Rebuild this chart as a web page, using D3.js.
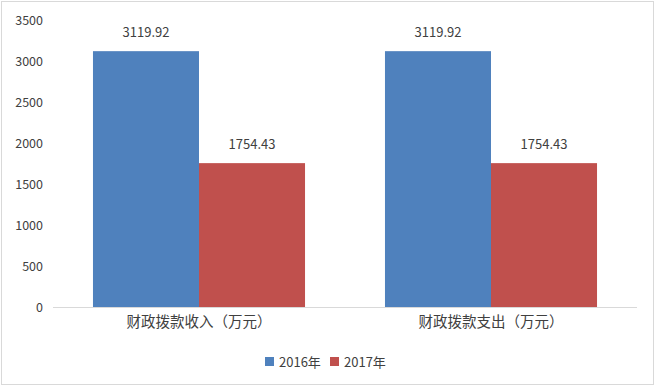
<!DOCTYPE html>
<html>
<head>
<meta charset="utf-8">
<script src="https://cdn.jsdelivr.net/npm/d3@7"></script>
<style>
  body { margin: 0; background: #fff; }
  text { font-family: "Noto Sans CJK SC", "Noto Sans", sans-serif; fill: #404040; }
</style>
</head>
<body>
<svg id="chart" width="655" height="386"></svg>
<script>
// chart data
var categories = ["财政拨款收入（万元）", "财政拨款支出（万元）"];
var seriesNames = ["2016年", "2017年"];
var values2016 = [3119.92, 3119.92];
var values2017 = [1754.43, 1754.43];
var yTicks = [0, 500, 1000, 1500, 2000, 2500, 3000, 3500];
var colors = ["#4f81bd", "#c0504d"];

var svg = d3.select("#chart");

// outer frame
svg.append("rect")
  .attr("x", 1.5).attr("y", 1.5)
  .attr("width", 652).attr("height", 383)
  .attr("fill", "#fff")
  .attr("stroke", "#d9d9d9");

var x0 = d3.scaleBand().domain(categories).range([53, 637]).paddingInner(0).paddingOuter(0);
var x1 = d3.scaleBand().domain(seriesNames).range([0, x0.bandwidth()]).paddingInner(0).paddingOuter(0.377);
var y = d3.scaleLinear().domain([0, 3500]).range([307, 20]);

var table = categories.map((c, i) => {
  return { cat: c, vals: [values2016[i], values2017[i]] };
});

// y axis labels
var yAxis = d3.axisLeft(y).tickValues(yTicks).tickFormat(d3.format("d")).tickSize(0).tickPadding(10);
var yg = svg.append("g").attr("transform", "translate(53,0)").call(yAxis);
yg.select(".domain").remove();
yg.selectAll("text")
  .style("font-size", "12.5px")
  .attr("fill", "#595959");

// bars
var groups = svg.selectAll("g.cat")
  .data(table)
  .enter()
  .append("g")
  .attr("class", "cat")
  .attr("transform", (d) => "translate(" + x0(d.cat) + ",0)");

groups.selectAll("rect")
  .data((d) => d.vals.map((v, j) => ({ name: seriesNames[j], v: v, j: j })))
  .enter()
  .append("rect")
  .attr("x", (d) => x1(d.name))
  .attr("y", (d) => y(d.v))
  .attr("width", x1.bandwidth())
  .attr("height", (d) => y(0) - y(d.v))
  .attr("fill", (d) => colors[d.j]);

groups.selectAll("text.val")
  .data((d) => d.vals.map((v, j) => ({ name: seriesNames[j], v: v })))
  .enter()
  .append("text")
  .attr("class", "val")
  .attr("x", (d) => x1(d.name) + x1.bandwidth() / 2)
  .attr("y", (d) => y(d.v) - 14)
  .attr("text-anchor", "middle")
  .style("font-size", "13px")
  .text((d) => d.v.toFixed(2));

// x axis
var xAxis = d3.axisBottom(x0).tickSize(0).tickPadding(10);
var xg = svg.append("g").attr("transform", "translate(0,307)").call(xAxis);
xg.select(".domain").attr("stroke", "#d9d9d9").attr("d", "M53,0.5H637");
xg.selectAll("text")
  .style("font-size", "14.5px")
  .attr("fill", "#404040");

// legend
var legendX = [265, 330];
var legend = svg.append("g");
seriesNames.forEach((n, i) => {
  legend.append("rect")
    .attr("x", legendX[i]).attr("y", 357)
    .attr("width", 9).attr("height", 9)
    .attr("fill", colors[i]);
  legend.append("text")
    .attr("x", legendX[i] + 14).attr("y", 366.5)
    .style("font-size", "13px")
    .attr("fill", "#595959")
    .text(n);
});
</script>
</body>
</html>
